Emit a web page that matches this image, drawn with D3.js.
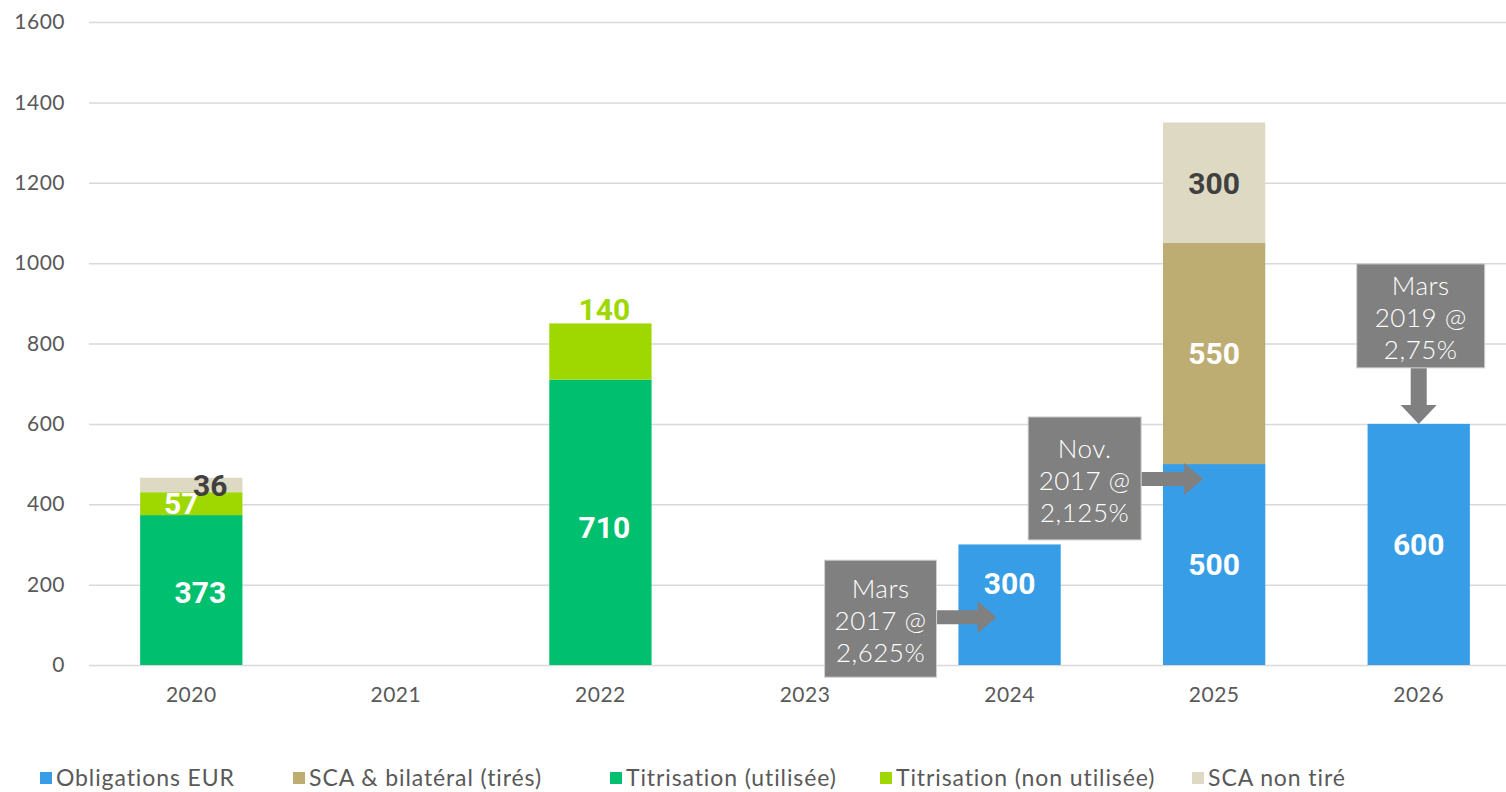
<!DOCTYPE html>
<html>
<head>
<meta charset="utf-8">
<script src="https://cdn.jsdelivr.net/npm/d3@7"></script>
<style>
  body { margin: 0; background: #fff; }
  text { font-family: Lato, "Open Sans", sans-serif; }
  .tick text { fill: #595959; font-size: 21px; letter-spacing: 0.5px; }
  .val { font-family: Roboto, sans-serif; font-weight: 700; font-size: 30px; }
  .note { fill: #fff; font-size: 26px; font-weight: 300; letter-spacing: 0.5px; }
  .leg { fill: #595959; font-size: 23px; letter-spacing: 0.9px; }
</style>
</head>
<body>
<svg width="1506" height="792"></svg>
<script>
var svg = d3.select('svg');

// categories and series
var years = ['2020', '2021', '2022', '2023', '2024', '2025', '2026'];
var seriesNames = ['Obligations EUR', 'SCA & bilatéral (tirés)', 'Titrisation (utilisée)', 'Titrisation (non utilisée)', 'SCA non tiré'];
var seriesColors = ['#379de6', '#bdad72', '#00bf6f', '#9ed800', '#ddd9c3'];
var obligations = [0, 0, 0, 0, 300, 500, 600];
var scaTires = [0, 0, 0, 0, 0, 550, 0];
var titriUtil = [373, 0, 710, 0, 0, 0, 0];
var titriNonUtil = [57, 0, 140, 0, 0, 0, 0];
var scaNonTire = [36, 0, 0, 0, 0, 300, 0];
var yTicks = [0, 200, 400, 600, 800, 1000, 1200, 1400, 1600];

// bond issue call-outs: year pointed at, value at arrow tip, text
var noteYears = ['2024', '2025', '2026'];
var noteValues = [119, 463, 600];
var noteLines = [['Mars', '2017 @', '2,625%'], ['Nov.', '2017 @', '2,125%'], ['Mars', '2019 @', '2,75%']];

var seriesValues = [obligations, scaTires, titriUtil, titriNonUtil, scaNonTire];
var table = years.map(function(y, i) {
    var row = {year: y};
    seriesNames.forEach(function(s, k) { row[s] = seriesValues[k][i]; });
    return row;
});

var x = d3.scaleBand().domain(years).range([89, 1521]).paddingInner(0.5).paddingOuter(0.25);
var y = d3.scaleLinear().domain([0, 1600]).range([665, 22]);

// grid + y labels
var yAxis = svg.append('g')
    .attr('transform', 'translate(89,0)')
    .call(d3.axisLeft(y).tickValues(yTicks).tickSize(-1440).tickPadding(24).tickFormat(d3.format('d')));
yAxis.select('.domain').remove();
yAxis.selectAll('.tick line').attr('stroke', '#d9d9d9').attr('stroke-width', 1.5);

var xAxis = svg.append('g')
    .attr('transform', 'translate(0,665)')
    .call(d3.axisBottom(x).tickSize(0).tickPadding(22));
xAxis.select('.domain').remove();

var stack = d3.stack().keys(seriesNames)(table);

var layers = svg.append('g').selectAll('g')
    .data(stack)
    .enter().append('g')
    .attr('fill', function(d, i) { return seriesColors[i]; });

layers.selectAll('rect')
    .data(function(d) { return d.filter(function(p) { return p[1] > p[0]; }); })
    .enter().append('rect')
    .attr('x', function(d) { return x(d.data.year); })
    .attr('width', x.bandwidth())
    .attr('y', function(d) { return y(d[1]); })
    .attr('height', function(d) { return y(d[0]) - y(d[1]); });

// value labels, a few nudged like the original
var nudge = {
    'Titrisation (non utilisée)|2020': {dx: -10, dy: 0},
    'SCA non tiré|2020': {dx: 19, dy: 0},
    'Titrisation (non utilisée)|2022': {dx: 4, dy: -42, color: '#9ed800'},
    'Obligations EUR|2024': {dx: 0, dy: -22},
    'Titrisation (utilisée)|2020': {dx: 9, dy: 2},
    'Titrisation (utilisée)|2022': {dx: 4, dy: 5}
};
stack.forEach(function(layer, k) {
    layer.forEach(function(p) {
        if (p[1] <= p[0]) return;
        var key = layer.key + '|' + p.data.year;
        var n = nudge[key] || {dx: 0, dy: 0};
        var dark = layer.key === 'SCA non tiré';
        svg.append('text')
            .attr('class', 'val')
            .attr('x', x(p.data.year) + x.bandwidth() / 2 + n.dx)
            .attr('y', (y(p[0]) + y(p[1])) / 2 + n.dy)
            .attr('dy', '0.36em')
            .attr('text-anchor', 'middle')
            .attr('fill', n.color || (dark ? '#404040' : '#fff'))
            .text(p[1] - p[0]);
    });
});

// call-outs
var grey = '#808080';
function drawNote(i, box, dir) {
    var tx = x(noteYears[i]) + x.bandwidth() / 2 + box.tipDx;
    var ty = y(noteValues[i]);
    var g = svg.append('g');
    var bx, by;
    if (dir === 'right') {
        bx = tx - box.reach - box.w;
        by = ty - box.anchor;
        var sx = bx + box.w;
        g.append('path').attr('fill', grey)
            .attr('d', 'M' + sx + ',' + (ty - 7) + 'H' + (tx - 19) + 'V' + (ty - 16) +
                'L' + tx + ',' + ty + 'L' + (tx - 19) + ',' + (ty + 16) + 'V' + (ty + 7) + 'H' + sx + 'Z');
    } else {
        bx = tx - box.w / 2 + 2;
        by = ty - box.reach - box.h;
        var sy = by + box.h;
        g.append('path').attr('fill', grey)
            .attr('d', 'M' + (tx - 8) + ',' + sy + 'V' + (ty - 19) + 'H' + (tx - 18) +
                'L' + tx + ',' + ty + 'L' + (tx + 18) + ',' + (ty - 19) + 'H' + (tx + 8) + 'V' + sy + 'Z');
    }
    g.append('rect').attr('x', bx).attr('y', by).attr('width', box.w).attr('height', box.h)
        .attr('fill', grey).attr('stroke', '#d0d0d0').attr('stroke-width', 1);
    g.selectAll('text').data(noteLines[i]).enter().append('text')
        .attr('class', 'note')
        .attr('x', bx + box.w / 2)
        .attr('y', function(d, j) { return by + box.pad + j * 32; })
        .attr('dy', '0.36em')
        .attr('text-anchor', 'middle')
        .text(function(d) { return d; });
}
drawNote(0, {w: 112, h: 117, reach: 60, anchor: 57, tipDx: -13, pad: 28}, 'right');
drawNote(1, {w: 113, h: 123, reach: 62, anchor: 62, tipDx: -11, pad: 32}, 'right');
drawNote(2, {w: 128, h: 104, reach: 56, tipDx: 0, pad: 22}, 'down');

// legend
var legX = [40, 293, 610, 880, 1192];
var leg = svg.append('g').selectAll('g')
    .data(seriesNames)
    .enter().append('g')
    .attr('transform', function(d, i) { return 'translate(' + legX[i] + ',778)'; });
leg.append('rect').attr('x', 0).attr('y', -6).attr('width', 12).attr('height', 12)
    .attr('fill', function(d, i) { return seriesColors[i]; });
leg.append('text').attr('class', 'leg').attr('x', 16).attr('dy', '0.36em').text(function(d) { return d; });
</script>
</body>
</html>
